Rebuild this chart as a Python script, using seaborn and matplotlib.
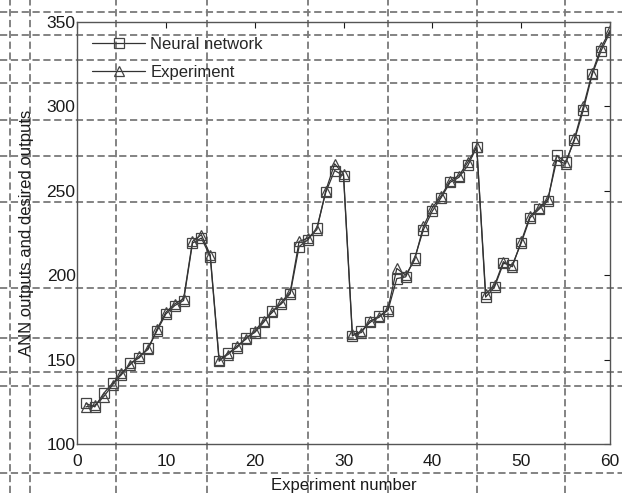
import numpy as np
import pandas as pd
import matplotlib
matplotlib.use("Agg")
import matplotlib.pyplot as plt
import seaborn as sns
from matplotlib.lines import Line2D

experiment = list(range(1, 61))
neural_network = [124, 122, 130, 136, 141, 148, 151, 157, 167, 177, 182, 185, 219, 222, 211,
                  149, 154, 157, 163, 166, 172, 179, 183, 189, 217, 221, 228, 249, 262, 259,
                  164, 167, 172, 176, 179, 198, 199, 210, 227, 238, 246, 255, 258, 265, 276,
                  187, 193, 207, 206, 219, 234, 239, 244, 271, 267, 280, 298, 319, 333, 344]
experiment_vals = [122, 123, 128, 135, 142, 147, 152, 156, 168, 178, 183, 186, 220, 224, 212,
                   150, 153, 158, 162, 167, 173, 178, 184, 190, 220, 222, 227, 250, 266, 260,
                   165, 166, 173, 175, 180, 204, 200, 209, 229, 240, 247, 256, 259, 267, 276,
                   189, 194, 208, 205, 220, 235, 240, 245, 268, 266, 281, 300, 320, 335, 345]
x_ticks = [0, 10, 20, 30, 40, 50, 60]
y_ticks = [100, 150, 200, 250, 300, 350]

sns.set_theme(style="white")
plt.rcParams['font.family'] = ['Liberation Sans', 'DejaVu Sans']

fig = plt.figure(figsize=(6.22, 4.93), dpi=100)
fig.patch.set_facecolor("white")

# scan artefact dashed lines (figure-level decoration)
dash_col = "#7a7a7a"
for yp in [12, 35, 60, 83, 120, 156, 202, 288, 338, 372, 386, 473]:
    fig.add_artist(Line2D([0, 1], [1 - yp / 493, 1 - yp / 493], transform=fig.transFigure,
                          color=dash_col, lw=1.3, ls=(0, (4, 2)), zorder=0))
for xp in [10, 30, 116, 207, 308, 388, 477, 565]:
    fig.add_artist(Line2D([xp / 622, xp / 622], [0, 1], transform=fig.transFigure,
                          color=dash_col, lw=1.3, ls=(0, (4, 2)), zorder=0))

ax = fig.add_axes([77 / 622, 1 - 444 / 493, (610 - 77) / 622, (444 - 22) / 493])
ax.set_facecolor("none")

df = pd.DataFrame({"x": experiment, "nn": neural_network, "exp": experiment_vals})
line_col = "#333333"
sns.lineplot(data=df, x="x", y="nn", ax=ax, color=line_col, lw=0.9, marker="s",
             markersize=7.5, markerfacecolor="none", markeredgecolor="#444444",
             markeredgewidth=0.9, label="Neural network")
sns.lineplot(data=df, x="x", y="exp", ax=ax, color=line_col, lw=0.9, marker="^",
             markersize=7.5, markerfacecolor="none", markeredgecolor="#444444",
             markeredgewidth=0.9, label="Experiment")

ax.set_xlim(0, 60)
ax.set_ylim(100, 350)
ax.set_xticks(x_ticks)
ax.set_yticks(y_ticks)
ax.tick_params(direction="in", top=True, right=True, length=4, width=0.8,
               labelsize=12.5, colors="#1a1a1a")
ax.tick_params(axis="x", pad=7)
ax.tick_params(axis="y", pad=1)
for s in ax.spines.values():
    s.set_color("#555555")
    s.set_linewidth(1.0)
ax.set_xlabel("Experiment number", fontsize=12, color="#1a1a1a", labelpad=7)
ax.set_ylabel("ANN outputs and desired outputs", fontsize=12, color="#1a1a1a", labelpad=9)

leg = ax.legend(loc="upper left", frameon=False, fontsize=12, handlelength=3.2,
                borderaxespad=0.3, borderpad=0.6, handletextpad=0.3, labelspacing=0.75)

fig.savefig("out.png", dpi=100, facecolor="white")
